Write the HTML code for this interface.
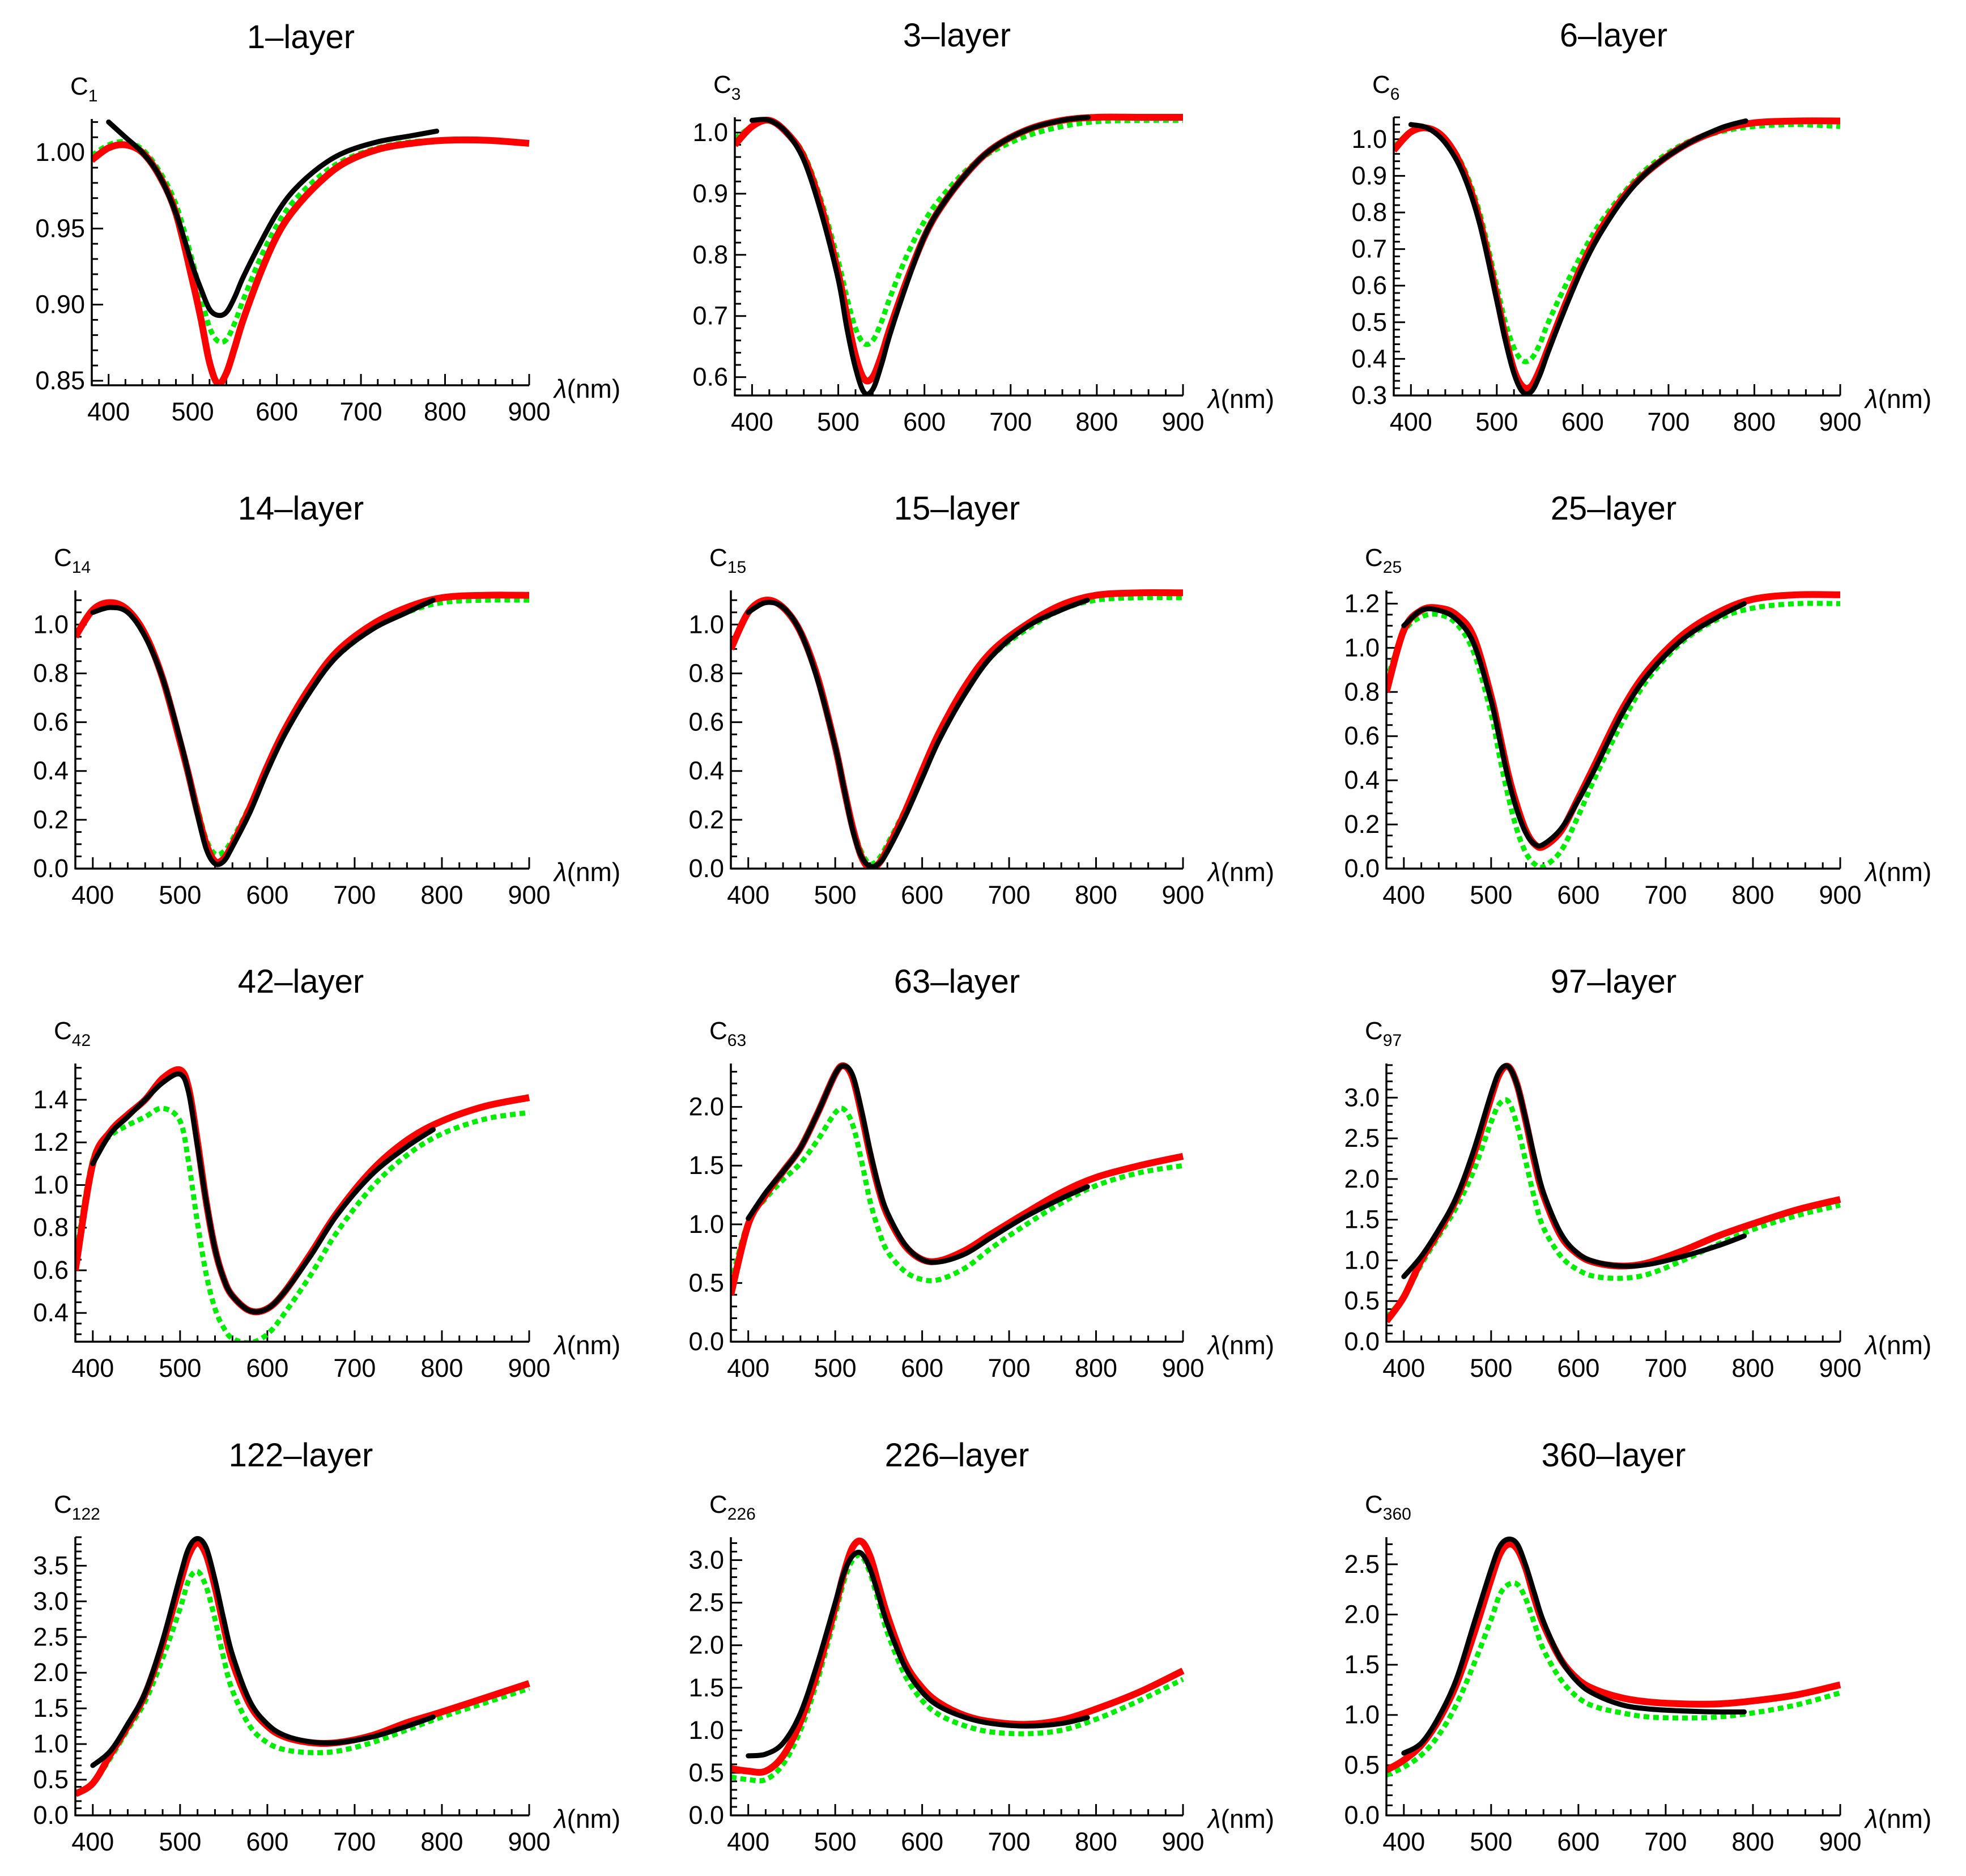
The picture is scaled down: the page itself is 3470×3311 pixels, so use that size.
<!DOCTYPE html>
<html><head><meta charset="utf-8"><style>
html,body{margin:0;padding:0;background:#fff}
svg{display:block}
text{font-family:"Liberation Sans",sans-serif;fill:#000}
</style></head><body>
<svg id="fig" xmlns="http://www.w3.org/2000/svg" width="3470" height="3311" viewBox="0 0 3470 3311"></svg>
<script>
// ---- data ----
const wlTheory=[380,400,420,440,460,480,500,510,520,530,540,550,560,580,600,620,650,680,720,760,800,850,900];
const wlMeasured=[400,420,440,460,480,500,510,520,530,540,550,560,580,600,620,650,680,720,760,790];
const panelTitles=["1-layer","3-layer","6-layer","14-layer","15-layer","25-layer","42-layer","63-layer","97-layer","122-layer","226-layer","360-layer"];
const panelSubs=["1","3","6","14","15","25","42","63","97","122","226","360"];
const yMins=[0.847,0.57,0.3,0,0,0,0.265,0,0,0,0,0];
const yMaxs=[1.022,1.025,1.06,1.14,1.14,1.26,1.57,2.37,3.42,3.9,3.27,2.77];
const yMajor=[0.05,0.1,0.1,0.2,0.2,0.2,0.2,0.5,0.5,0.5,0.5,0.5];
const yTickFirst=[0.85,0.6,0.3,0,0,0,0.4,0,0,0,0,0];
const yDecimals=[2,1,1,1,1,1,1,1,1,1,1,1];
const xTicks=[400,500,600,700,800,900];
const red=[
[0.995,1.003,1.005,1.0,0.985,0.96,0.915,0.89,0.862,0.848,0.855,0.872,0.89,0.92,0.945,0.962,0.98,0.993,1.002,1.006,1.008,1.008,1.006],
[0.98,1.01,1.02,1.0,0.96,0.88,0.77,0.70,0.635,0.597,0.60,0.635,0.68,0.76,0.83,0.88,0.935,0.975,1.005,1.02,1.025,1.025,1.025],
[0.97,1.02,1.03,1.0,0.92,0.78,0.57,0.46,0.37,0.325,0.325,0.37,0.43,0.55,0.66,0.75,0.85,0.92,0.985,1.025,1.045,1.05,1.05],
[0.95,1.06,1.09,1.06,0.96,0.78,0.52,0.38,0.23,0.1,0.03,0.04,0.1,0.25,0.42,0.57,0.75,0.89,1.0,1.07,1.11,1.12,1.12],
[0.9,1.05,1.1,1.07,0.97,0.78,0.5,0.33,0.17,0.05,0.0,0.02,0.08,0.23,0.4,0.56,0.75,0.89,1.0,1.08,1.12,1.13,1.13],
[0.8,1.08,1.17,1.18,1.15,1.05,0.78,0.6,0.42,0.28,0.17,0.11,0.1,0.17,0.32,0.48,0.72,0.9,1.06,1.16,1.22,1.24,1.24],
[0.6,1.1,1.25,1.33,1.4,1.5,1.54,1.45,1.2,0.92,0.7,0.56,0.48,0.41,0.42,0.5,0.68,0.87,1.07,1.21,1.3,1.37,1.41],
[0.4,1.0,1.25,1.45,1.65,1.95,2.28,2.35,2.25,1.95,1.6,1.3,1.08,0.82,0.7,0.69,0.78,0.92,1.1,1.27,1.4,1.5,1.58],
[0.25,0.55,1.0,1.35,1.75,2.3,3.0,3.3,3.38,3.15,2.7,2.2,1.8,1.3,1.07,0.97,0.93,0.97,1.12,1.3,1.45,1.62,1.75],
[0.3,0.45,0.85,1.25,1.7,2.4,3.25,3.65,3.82,3.65,3.2,2.65,2.15,1.55,1.25,1.1,1.02,1.02,1.12,1.3,1.45,1.65,1.85],
[0.55,0.52,0.52,0.7,1.1,1.7,2.45,2.85,3.15,3.22,3.05,2.7,2.35,1.8,1.5,1.32,1.17,1.1,1.07,1.12,1.25,1.45,1.7],
[0.45,0.55,0.7,0.95,1.3,1.8,2.35,2.6,2.7,2.65,2.45,2.15,1.9,1.55,1.35,1.25,1.17,1.13,1.11,1.11,1.14,1.2,1.3]];
const green=[
[0.998,1.005,1.007,1.002,0.988,0.966,0.928,0.905,0.885,0.876,0.877,0.888,0.903,0.93,0.952,0.968,0.984,0.995,1.003,1.007,1.008,1.008,1.006],
[0.99,1.01,1.02,1.0,0.965,0.89,0.79,0.73,0.68,0.655,0.66,0.69,0.73,0.80,0.855,0.895,0.94,0.97,0.995,1.01,1.018,1.02,1.02],
[0.98,1.02,1.03,1.0,0.93,0.8,0.6,0.5,0.43,0.395,0.4,0.44,0.5,0.6,0.69,0.77,0.86,0.93,0.99,1.02,1.035,1.04,1.035],
[0.95,1.06,1.09,1.06,0.96,0.78,0.53,0.39,0.25,0.12,0.06,0.07,0.12,0.26,0.42,0.56,0.74,0.87,0.98,1.05,1.09,1.1,1.1],
[0.9,1.05,1.1,1.07,0.97,0.78,0.51,0.34,0.18,0.07,0.02,0.04,0.1,0.24,0.4,0.55,0.73,0.87,0.98,1.06,1.1,1.11,1.11],
[0.85,1.07,1.14,1.15,1.11,0.98,0.7,0.5,0.32,0.17,0.07,0.02,0.01,0.08,0.24,0.42,0.66,0.86,1.03,1.13,1.18,1.2,1.2],
[0.65,1.12,1.23,1.28,1.32,1.36,1.3,1.1,0.82,0.58,0.42,0.33,0.28,0.26,0.3,0.4,0.58,0.78,0.99,1.14,1.24,1.31,1.34],
[0.5,1.02,1.22,1.38,1.52,1.72,1.95,1.98,1.85,1.55,1.2,0.95,0.77,0.6,0.53,0.53,0.63,0.8,1.0,1.18,1.33,1.44,1.5],
[0.3,0.55,0.95,1.3,1.65,2.1,2.7,2.93,2.95,2.65,2.2,1.75,1.4,1.05,0.88,0.8,0.78,0.83,1.0,1.2,1.38,1.55,1.68],
[0.3,0.45,0.8,1.2,1.6,2.2,2.9,3.3,3.42,3.2,2.75,2.2,1.75,1.25,1.02,0.92,0.88,0.9,1.02,1.2,1.38,1.58,1.78],
[0.45,0.42,0.42,0.6,1.0,1.6,2.35,2.75,3.0,3.05,2.85,2.5,2.15,1.65,1.35,1.18,1.05,0.98,0.96,1.0,1.13,1.35,1.6],
[0.4,0.48,0.6,0.8,1.1,1.5,1.95,2.2,2.3,2.3,2.15,1.9,1.65,1.35,1.17,1.08,1.02,0.98,0.97,0.98,1.02,1.1,1.22]];
const black=[
[1.02,1.01,1.0,0.985,0.96,0.925,0.91,0.897,0.893,0.895,0.905,0.918,0.94,0.96,0.975,0.99,1.0,1.007,1.011,1.014],
[1.02,1.02,1.0,0.955,0.87,0.76,0.68,0.615,0.575,0.58,0.62,0.67,0.755,0.83,0.88,0.935,0.975,1.005,1.02,1.025],
[1.04,1.03,0.99,0.91,0.77,0.56,0.45,0.36,0.31,0.31,0.355,0.42,0.54,0.65,0.74,0.845,0.92,0.985,1.03,1.05],
[1.05,1.07,1.05,0.95,0.78,0.53,0.38,0.22,0.08,0.02,0.03,0.09,0.23,0.4,0.55,0.73,0.87,0.98,1.05,1.1],
[1.05,1.09,1.07,0.97,0.77,0.5,0.33,0.16,0.05,0.01,0.02,0.07,0.21,0.37,0.53,0.72,0.87,0.99,1.06,1.1],
[1.1,1.17,1.17,1.13,1.02,0.76,0.58,0.4,0.26,0.16,0.11,0.11,0.18,0.31,0.46,0.7,0.88,1.04,1.14,1.2],
[1.1,1.24,1.32,1.4,1.48,1.52,1.43,1.18,0.92,0.7,0.56,0.48,0.41,0.42,0.5,0.67,0.86,1.05,1.18,1.26],
[1.05,1.27,1.45,1.65,1.95,2.28,2.35,2.27,1.98,1.63,1.32,1.1,0.83,0.7,0.68,0.75,0.89,1.07,1.22,1.32],
[0.8,1.05,1.38,1.77,2.35,3.05,3.33,3.38,3.15,2.72,2.25,1.83,1.33,1.08,0.98,0.93,0.95,1.05,1.18,1.3],
[0.7,0.9,1.28,1.72,2.45,3.35,3.75,3.88,3.75,3.3,2.75,2.25,1.6,1.28,1.12,1.03,1.02,1.1,1.25,1.38],
[0.7,0.72,0.85,1.2,1.8,2.5,2.85,3.05,3.08,2.9,2.58,2.25,1.75,1.45,1.28,1.15,1.08,1.05,1.08,1.15],
[0.62,0.72,0.98,1.35,1.9,2.45,2.68,2.75,2.7,2.48,2.2,1.93,1.55,1.32,1.2,1.1,1.06,1.04,1.03,1.03]];

// ---- layout ----
const lefts=[162,1297,2460,133,1290,2447,133,1290,2447,133,1290,2447];
const rights=[934,2088,3248];
const titleCenters=[531,1689,2848];
const bottoms=[680,698,698,1533,1533,1533,2368,2368,2368,3204,3204,3204];
const tops=[210,207,207,1042,1042,1042,1877,1877,1877,2713,2713,2713];
const XMIN=380,XMAX=900;
const NS="http://www.w3.org/2000/svg";
const svg=document.getElementById('fig');
function mk(tag,attrs,parent){const e=document.createElementNS(NS,tag);for(const k in attrs)e.setAttribute(k,attrs[k]);(parent||svg).appendChild(e);return e;}
function pathOf(xs,ys){
  let d=`M${xs[0].toFixed(1)},${ys[0].toFixed(1)}`;
  for(let i=0;i<xs.length-1;i++){
    const x0=xs[Math.max(i-1,0)],y0=ys[Math.max(i-1,0)],x1=xs[i],y1=ys[i],x2=xs[i+1],y2=ys[i+1],x3=xs[Math.min(i+2,xs.length-1)],y3=ys[Math.min(i+2,xs.length-1)];
    const c1x=x1+(x2-x0)/6,c1y=y1+(y2-y0)/6,c2x=x2-(x3-x1)/6,c2y=y2-(y3-y1)/6;
    d+=` C${c1x.toFixed(1)},${c1y.toFixed(1)} ${c2x.toFixed(1)},${c2y.toFixed(1)} ${x2.toFixed(1)},${y2.toFixed(1)}`;
  }
  return d;
}
for(let p=0;p<12;p++){
  const col=p%3;
  const L=lefts[p],R=rights[col],B=bottoms[p],T=tops[p];
  const sx=v=>L+(v-XMIN)/(XMAX-XMIN)*(R-L);
  const sy=v=>B-(v-yMins[p])/(yMaxs[p]-yMins[p])*(B-T);
  const g=mk('g',{});
  
  
  const title=mk('text',{x:titleCenters[col],y:T-125,'font-size':58,'text-anchor':'middle'},g);
  title.textContent=panelTitles[p].replace('-','\u2013');
  
  
  const yl=mk('text',{x:L-38,y:T-43,'font-size':44},g);
  
  
  const t1=mk('tspan',{},yl);t1.textContent='C';
  const t2=mk('tspan',{dy:12,'font-size':30},yl);t2.textContent=panelSubs[p];
  const xl=mk('text',{x:R+44,y:B+22,'font-size':46},g);
  
  
  const i1=mk('tspan',{'font-style':'italic'},xl);i1.textContent='\u03bb';
  const i2=mk('tspan',{},xl);i2.textContent='(nm)';
  for(let v=380;v<=900;v+=20){
    const maj=v%100===0;
    mk('line',{x1:sx(v),x2:sx(v),y1:B,y2:B-(maj?20:11),stroke:'#000','stroke-width':3},g);
  }
  xTicks.forEach(v=>{
    const t=mk('text',{x:sx(v),y:B+62,'font-size':45,'text-anchor':'middle'},g);
    t.textContent=String(v);
    
    
  });
  const mj=yMajor[p],mn=mj/(mj===0.2?4:5);
  for(let k=Math.ceil((yMins[p]-1e-9)/mn);k*mn<=yMaxs[p]+1e-9;k++){
    const v=k*mn;
    const maj=Math.abs(v/mj-Math.round(v/mj))<1e-6;
    mk('line',{x1:L,x2:L+(maj?20:11),y1:sy(v),y2:sy(v),stroke:'#000','stroke-width':3},g);
  }
  for(let v=yTickFirst[p];v<=yMaxs[p]+1e-9;v+=mj){
    const t=mk('text',{x:L-12,y:sy(v)+15,'font-size':45,'text-anchor':'end'},g);
    t.textContent=v.toFixed(yDecimals[p]);
    
    
  }
  const cp=mk('clipPath',{id:'c'+p},g);
  mk('rect',{x:L,y:T-15,width:R-L+4,height:B-T+15},cp);
  const cg=mk('g',{'clip-path':`url(#c${p})`},g);
  const gp=mk('path',{d:pathOf(wlTheory.map(sx),green[p].map(sy)),fill:'none',stroke:'#00ee00','stroke-width':9,'stroke-dasharray':'10 7'},cg);
  
  
  const rp=mk('path',{d:pathOf(wlTheory.map(sx),red[p].map(sy)),fill:'none',stroke:'#ff0000','stroke-width':12,'stroke-linejoin':'round'},cg);
  
  
  const bp=mk('path',{d:pathOf(wlMeasured.map(sx),black[p].map(sy)),fill:'none',stroke:'#000','stroke-width':9,'stroke-linecap':'round'},cg);
  
  
  mk('line',{x1:L,x2:L,y1:T,y2:B+1.5,stroke:'#000','stroke-width':3.5},g);
  mk('line',{x1:L,x2:R,y1:B,y2:B,stroke:'#000','stroke-width':3.5},g);
}
</script>
</body></html>
